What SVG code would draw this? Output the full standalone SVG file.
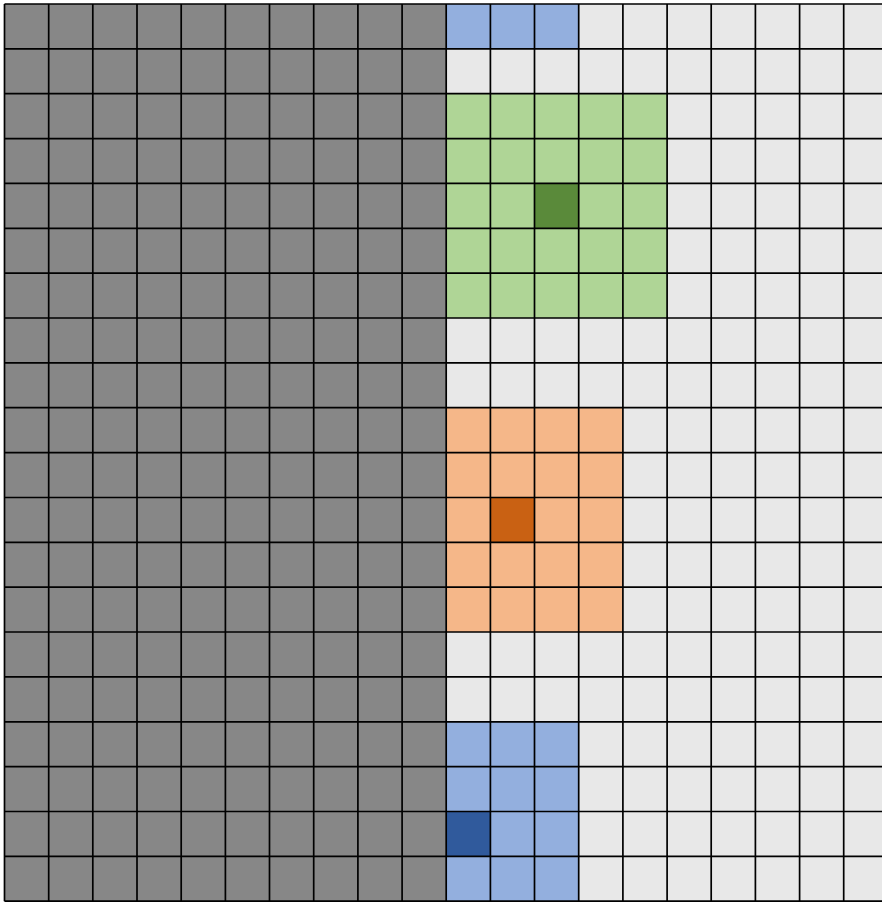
<svg xmlns="http://www.w3.org/2000/svg" width="882" height="902" viewBox="0 0 882 902">
<style>
.gray{fill:#878787}.light{fill:#e8e8e8}.blue{fill:#93afde}.dblue{fill:#305a9c}.green{fill:#afd596}.dgreen{fill:#5a8a3a}.orange{fill:#f5b789}.dorange{fill:#c96113}
.grid{stroke:#000;stroke-width:1.7;fill:none}
</style>
<rect width="882" height="902" fill="#ffffff"/>
<g id="fills">
<rect class="gray" x="4.5" y="4" width="441.7" height="897.2"/>
<rect class="light" x="446.2" y="4" width="442" height="897.2"/>
<rect class="blue" x="446.2" y="4" width="132.5" height="44.86"/>
<rect class="green" x="446.2" y="93.7" width="220.9" height="224.3"/>
<rect class="dgreen" x="534.5" y="183.4" width="44.2" height="44.9"/>
<rect class="orange" x="446.2" y="407.7" width="176.7" height="224.3"/>
<rect class="dorange" x="490.4" y="497.5" width="44.1" height="44.8"/>
<rect class="blue" x="446.2" y="721.8" width="132.5" height="179.4"/>
<rect class="dblue" x="446.2" y="811.5" width="44.2" height="44.8"/>
</g>
<g id="grid">
<path class="grid" d="M4.5 4V901.2M48.7 4V901.2M92.8 4V901.2M137 4V901.2M181.2 4V901.2M225.4 4V901.2M269.5 4V901.2M313.7 4V901.2M357.9 4V901.2M402.1 4V901.2M446.2 4V901.2M490.4 4V901.2M534.5 4V901.2M578.7 4V901.2M622.9 4V901.2M667.1 4V901.2M711.2 4V901.2M755.4 4V901.2M799.6 4V901.2M843.7 4V901.2"/>
<path class="grid" d="M4.5 4H882M4.5 48.9H882M4.5 93.7H882M4.5 138.6H882M4.5 183.4H882M4.5 228.3H882M4.5 273.2H882M4.5 318H882M4.5 362.9H882M4.5 407.7H882M4.5 452.6H882M4.5 497.5H882M4.5 542.3H882M4.5 587.2H882M4.5 632H882M4.5 676.9H882M4.5 721.8H882M4.5 766.6H882M4.5 811.5H882M4.5 856.3H882M4.5 901.2H882"/>
</g>
</svg>
